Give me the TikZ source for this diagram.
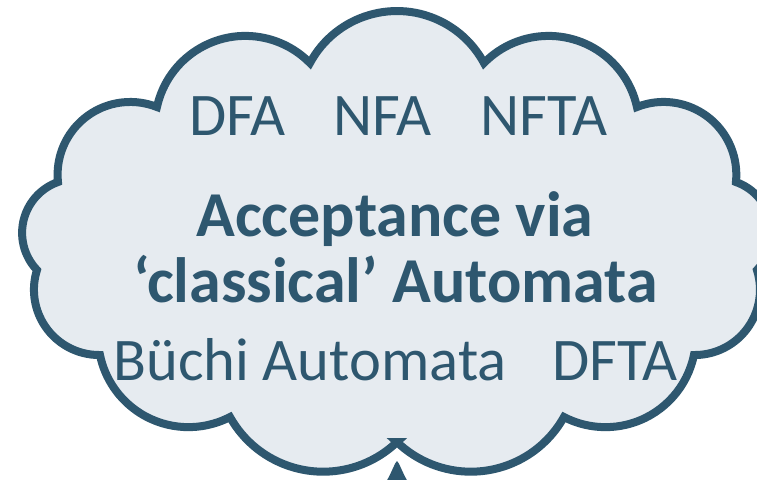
\documentclass[tikz,border=0pt]{standalone}
\usepackage{fontspec}
\setmainfont{Carlito}
\definecolor{cloudline}{RGB}{46,87,111}
\definecolor{cloudfill}{RGB}{230,235,240}
\tikzset{
  cloudpath/.style={draw=cloudline, fill=cloudfill, line width=8pt, line join=miter, miter limit=10},
  smalltxt/.style={text=cloudline, anchor=base, inner sep=0pt, font=\fontsize{60.5}{61}\selectfont},
  bigtxt/.style={text=cloudline, anchor=base, inner sep=0pt, font=\fontsize{64}{64}\selectfont\bfseries},
}
\begin{document}
\begin{tikzpicture}[x=1pt,y=-1pt]
\useasboundingbox (0,0) rectangle (757,479);
\fill[white] (0,0) rectangle (757,479);
\coordinate (c7) at (397,442);
\path[cloudpath] (c7)
 arc[start angle=46.2,   end angle=150.82, radius=106.7]
 arc[start angle=62.6,   end angle=168.39, radius=90.3]
 arc[start angle=89.34,  end angle=197.56, radius=65.3]
 arc[start angle=136.36, end angle=250.48, radius=53.9]
 arc[start angle=174.18, end angle=291.52, radius=72.7]
 arc[start angle=192.37, end angle=315.54, radius=90.5]
 arc[start angle=208.28, end angle=331.72, radius=98.8]
 arc[start angle=-135.54,end angle=-12.37, radius=90.5]
 arc[start angle=-111.52,end angle=5.82,   radius=72.7]
 arc[start angle=-70.48, end angle=43.64,  radius=53.9]
 arc[start angle=-17.56, end angle=90.66,  radius=65.3]
 arc[start angle=11.61,  end angle=117.4,  radius=90.3]
 arc[start angle=29.18,  end angle=133.8,  radius=106.7]
 -- cycle;
\coordinate (tipL) at (386,482);
\coordinate (tip) at (397,461);
\coordinate (tipR) at (408,482);
\fill[cloudline] (tipL) .. controls (392,472) and (395,462) .. (tip)
  .. controls (399,462) and (402,472) .. (tipR) -- cycle;
\node[smalltxt] (dfa) at (237.5,135) {DFA};
\node[smalltxt] (nfa) at (382.5,135) {NFA};
\node[smalltxt] (nfta) at (544,135) {NFTA};
\node[bigtxt] (l1) at (395,236) {Acceptance via};
\node[bigtxt] (l2) at (395.5,302) {‘classical’ Automata};
\node[smalltxt] (buchi) at (310,380) {Büchi Automata};
\node[smalltxt] (dfta) at (615,380) {DFTA};
\end{tikzpicture}
\end{document}
